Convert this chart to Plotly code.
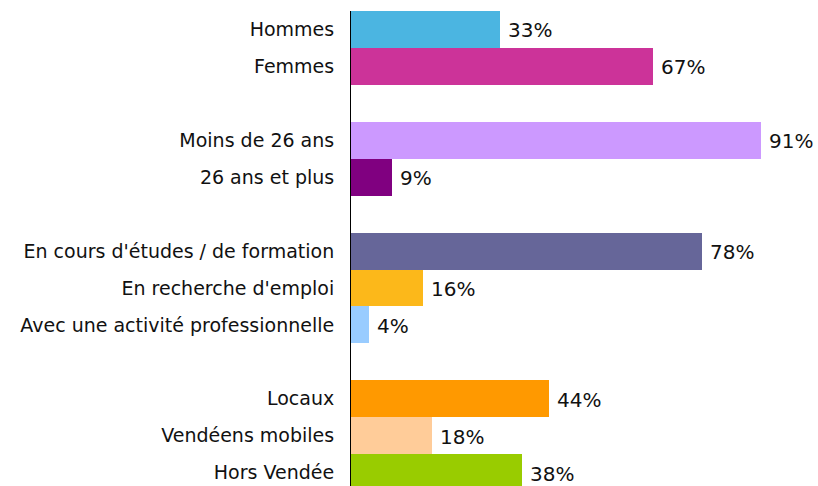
import plotly.graph_objects as go

# Profile breakdown (percent), grouped with blank rows between groups
labels = ["Hommes", "Femmes", "",
          "Moins de 26 ans", "26 ans et plus", "",
          "En cours d'études / de formation", "En recherche d'emploi",
          "Avec une activité professionnelle", "",
          "Locaux", "Vendéens mobiles", "Hors Vendée"]
values = [33, 67, None,
          91, 9, None,
          78, 16, 4, None,
          44, 18, 38]
colors = ["#4BB5E1", "#CC3399", "#FFFFFF",
          "#CC99FF", "#800080", "#FFFFFF",
          "#666699", "#FCB81A", "#99CCFF", "#FFFFFF",
          "#FF9900", "#FFCC99", "#99CC00"]

pos = list(range(len(labels)))
bar_x = [v if v is not None else 0 for v in values]

font_family = "DejaVu Sans"
text_color = "#111111"
font_size = 19

fig = go.Figure()
fig.add_trace(go.Bar(
    x=bar_x, y=pos, orientation="h",
    marker=dict(color=colors, line=dict(width=0)),
    width=1.0, hoverinfo="skip",
))

for p, v in zip(pos, values):
    if v is None:
        continue
    fig.add_annotation(
        x=v, y=p, text=f"{v}%", showarrow=False,
        xanchor="left", yanchor="middle", xshift=6, yshift=-1,
        font=dict(family=font_family, size=20, color=text_color),
    )

tick_pos = [p for p, l in zip(pos, labels) if l]
tick_txt = [l for l in labels if l]

fig.update_layout(
    width=818, height=486,
    margin=dict(l=351, r=17, t=11, b=0),
    paper_bgcolor="white", plot_bgcolor="white",
    showlegend=False, bargap=0,
    font=dict(family=font_family, size=font_size, color=text_color),
    xaxis=dict(range=[0, 100], showgrid=False, zeroline=False,
               showticklabels=False, showline=False, ticks=""),
    yaxis=dict(range=[12.36, -0.5], tickvals=tick_pos, ticktext=tick_txt,
               showgrid=False, zeroline=False, showline=True,
               linecolor="black", linewidth=1, ticks="",
               ticklabelstandoff=12,
               tickfont=dict(family=font_family, size=font_size, color=text_color)),
)

fig.write_html("out.html")
